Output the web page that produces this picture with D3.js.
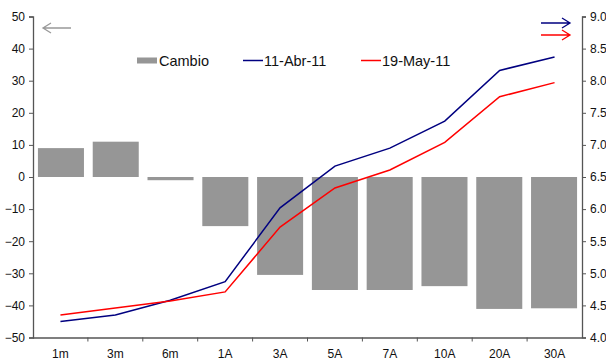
<!DOCTYPE html>
<html>
<head>
<meta charset="utf-8">
<script src="https://cdn.jsdelivr.net/npm/d3@7"></script>
<style>
  body { margin: 0; background: #fff; }
  svg text { font-family: "Liberation Sans", Arial, sans-serif; fill: #111; }
</style>
</head>
<body>
<svg id="chart" width="606" height="362"></svg>
<script>
// Plazos de la curva
const categories = ["1m", "3m", "6m", "1A", "3A", "5A", "7A", "10A", "20A", "30A"];
// Cambio (pb), eje izquierdo
const cambio = [9, 11, -1, -15.3, -30.5, -35.2, -35.2, -34, -41.1, -40.9];
// Tasas (%), eje derecho
const abr11 = [4.25, 4.35, 4.58, 4.87, 6.02, 6.67, 6.95, 7.37, 8.16, 8.37];
const may19 = [4.35, 4.46, 4.57, 4.71, 5.72, 6.33, 6.61, 7.04, 7.75, 7.97];
// Marcas de los ejes
const leftTicks = [-50, -40, -30, -20, -10, 0, 10, 20, 30, 40, 50];
const rightTicks = [4.0, 4.5, 5.0, 5.5, 6.0, 6.5, 7.0, 7.5, 8.0, 8.5, 9.0];

const svg = d3.select("#chart");
const m = { left: 33, right: 582, top: 16.5, bottom: 337.5 };

const x = d3.scaleBand().domain(categories).range([m.left, m.right]).paddingInner(0.16).paddingOuter(0.09);
const xBand = d3.scaleBand().domain(categories).range([m.left, m.right]);
const yL = d3.scaleLinear().domain([-50, 50]).range([m.bottom, m.top]);
const yR = d3.scaleLinear().domain([4, 9]).range([m.bottom, m.top]);

// Barras de cambio
svg.append("g").selectAll("rect").data(cambio).join("rect")
  .attr("x", (d, i) => x(categories[i]))
  .attr("width", x.bandwidth())
  .attr("y", d => yL(Math.max(0, d)))
  .attr("height", d => Math.abs(yL(d) - yL(0)))
  .attr("fill", "#969696");

// Líneas de tasas
const line = d3.line().x((d, i) => xBand(categories[i]) + xBand.bandwidth() / 2).y(d => yR(d));
svg.append("path").datum(abr11).attr("d", line).attr("fill", "none").attr("stroke", "#000080").attr("stroke-width", 1.5);
svg.append("path").datum(may19).attr("d", line).attr("fill", "none").attr("stroke", "#ff0000").attr("stroke-width", 1.5);

// Ejes
const axisColor = "#555";
const gL = svg.append("g").attr("transform", `translate(${m.left},0)`)
  .call(d3.axisLeft(yL).tickValues(leftTicks).tickSize(4).tickPadding(4));
const gR = svg.append("g").attr("transform", `translate(${m.right},0)`)
  .call(d3.axisRight(yR).tickValues(rightTicks).tickSize(4).tickPadding(4).tickFormat(d3.format(".1f")));
const gB = svg.append("g").attr("transform", `translate(0,${m.bottom})`)
  .call(d3.axisBottom(xBand).tickSize(0).tickPadding(12));
// marcas entre categorías
svg.append("g").selectAll("line").data(categories.slice(1)).join("line")
  .attr("x1", d => xBand(d)).attr("x2", d => xBand(d))
  .attr("y1", m.bottom).attr("y2", m.bottom + 4)
  .attr("stroke", axisColor);

[gL, gR, gB].forEach(g => {
  g.selectAll("path.domain").attr("stroke", axisColor).attr("stroke-width", 1.3);
  g.selectAll(".tick line").attr("stroke", axisColor);
  g.selectAll("text").attr("font-size", 12).attr("font-family", "Liberation Sans, Arial, sans-serif").attr("fill", "#111");
});
gB.select("path.domain").attr("d", `M${m.left},0.5H${m.right}`);

// Flechas indicadoras de eje
function arrow(x1, x2, y, color) {
  const dir = Math.sign(x2 - x1);
  svg.append("path")
    .attr("d", `M${x1},${y}H${x2}M${x2 - dir * 8},${y - 5}L${x2},${y}L${x2 - dir * 8},${y + 5}`)
    .attr("fill", "none").attr("stroke", color).attr("stroke-width", 1.3);
}
arrow(71, 43, 28, "#999");
arrow(541, 570, 23, "#000080");
arrow(541, 570, 35, "#ff0000");

// Leyenda
const lg = svg.append("g");
lg.append("rect").attr("x", 137).attr("y", 57.5).attr("width", 20).attr("height", 6).attr("fill", "#969696");
lg.append("text").attr("x", 159).attr("y", 66).attr("font-size", 14.5).text("Cambio");
lg.append("line").attr("x1", 243).attr("x2", 263).attr("y1", 60.5).attr("y2", 60.5).attr("stroke", "#000080").attr("stroke-width", 1.5);
lg.append("text").attr("x", 264).attr("y", 66).attr("font-size", 14.5).text("11-Abr-11");
lg.append("line").attr("x1", 361).attr("x2", 381).attr("y1", 60.5).attr("y2", 60.5).attr("stroke", "#ff0000").attr("stroke-width", 1.5);
lg.append("text").attr("x", 382).attr("y", 66).attr("font-size", 14.5).text("19-May-11");
</script>
</body>
</html>
